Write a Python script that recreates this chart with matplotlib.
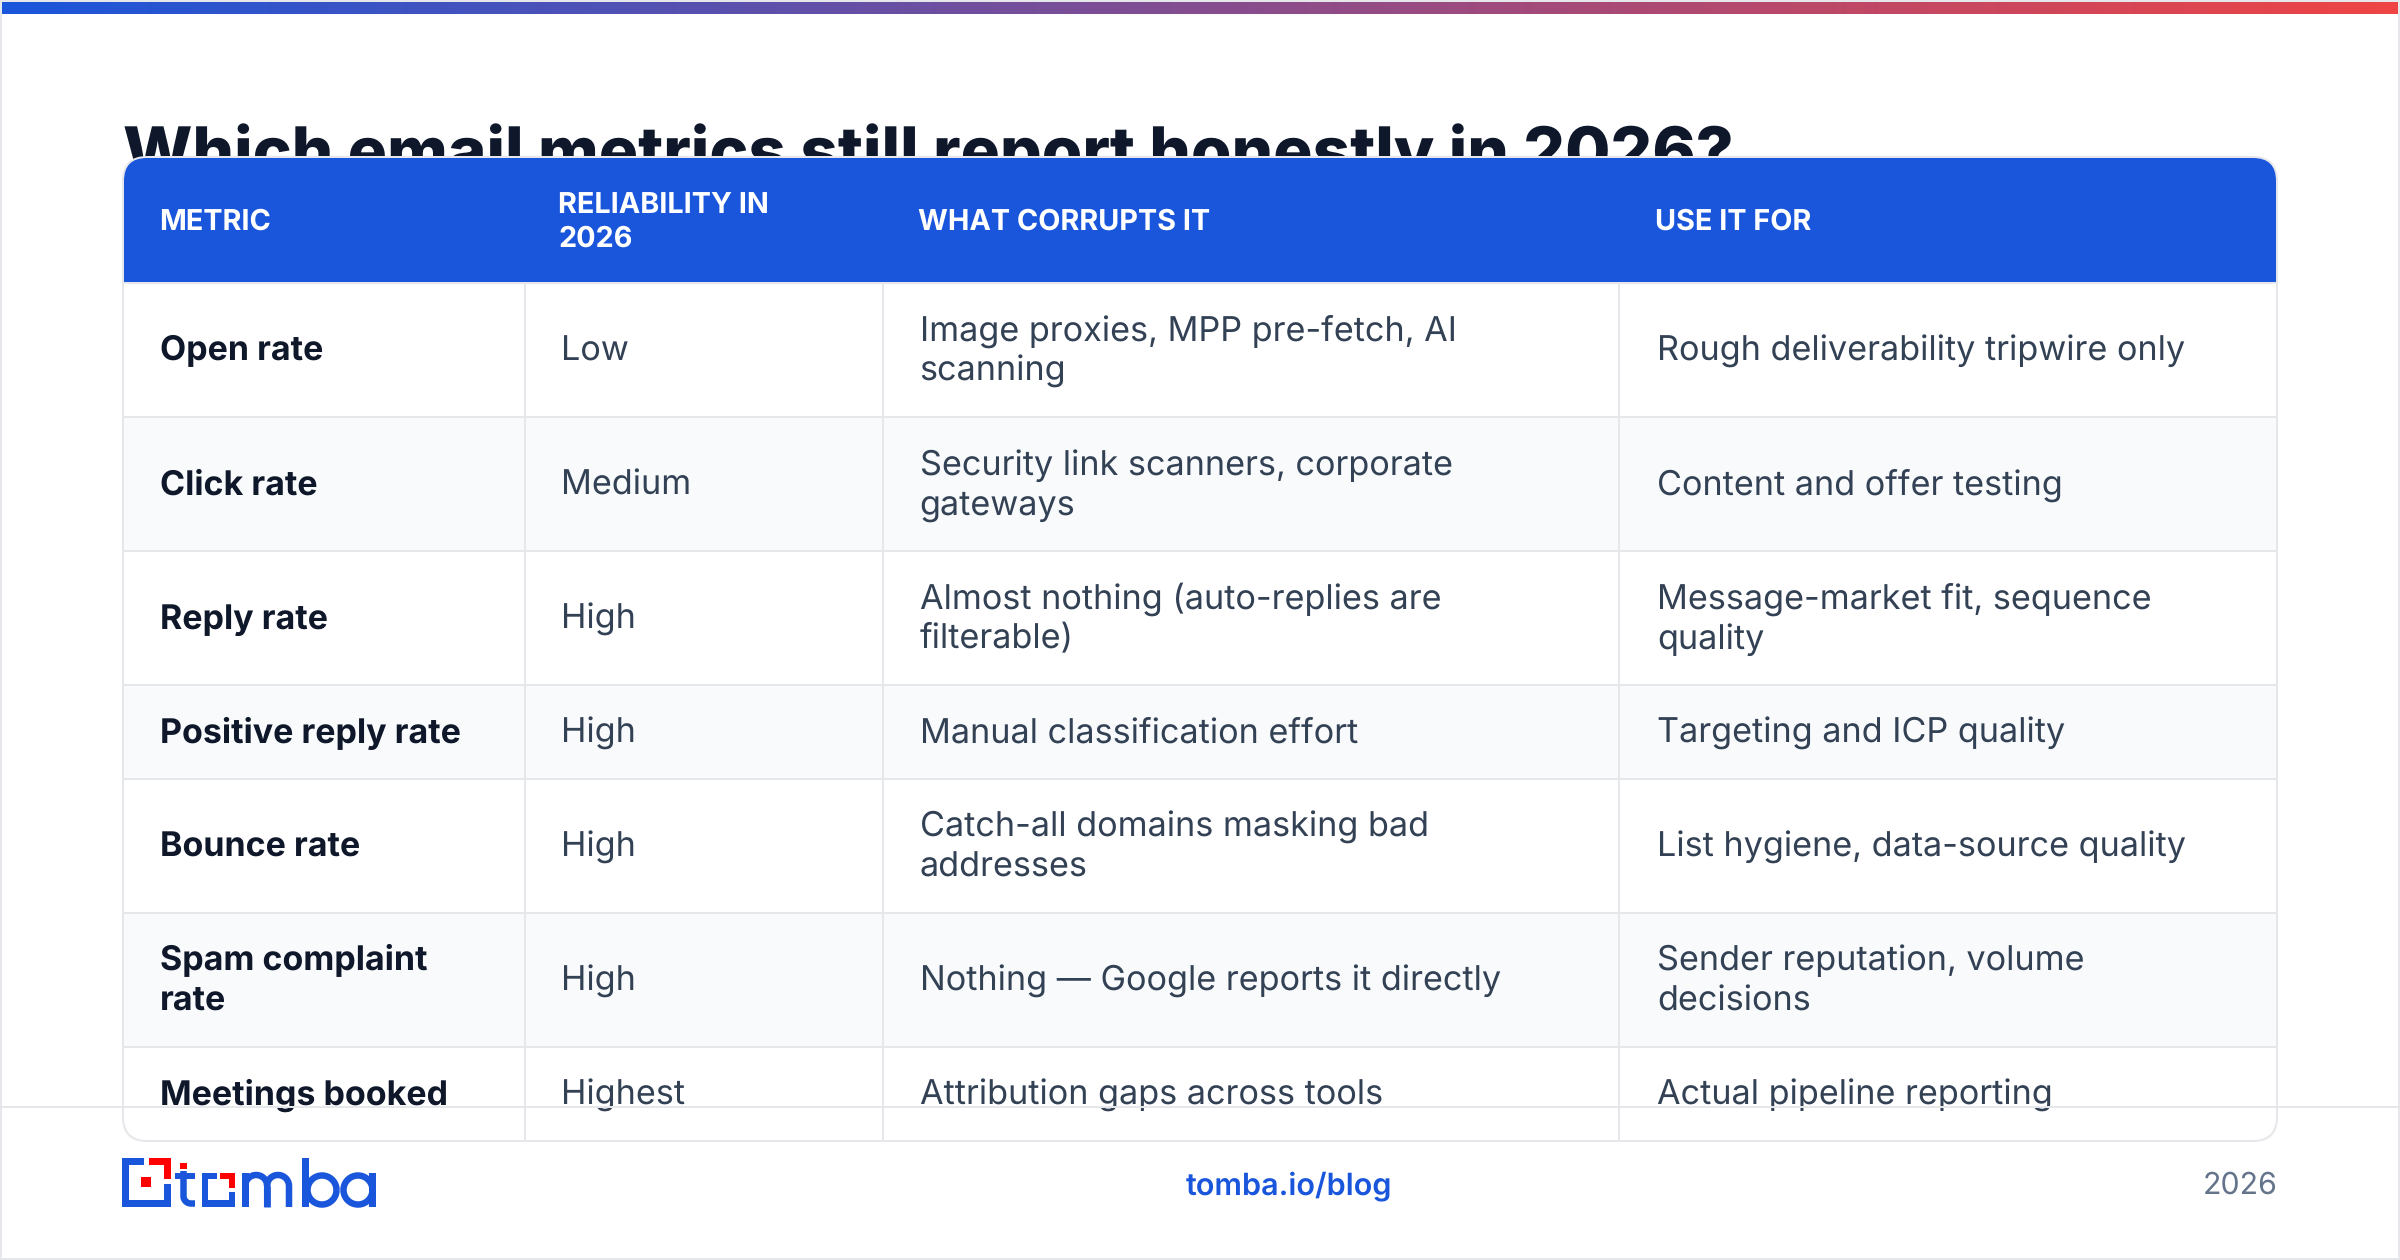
import numpy as np
import matplotlib
matplotlib.use('Agg')
import matplotlib.pyplot as plt
from matplotlib.patches import Rectangle, FancyBboxPatch

FONT = ['Inter', 'DejaVu Sans']
plt.rcParams['font.family'] = FONT
plt.rcParams['text.hinting'] = 'no_hinting'
plt.rcParams['text.hinting_factor'] = 1

title = 'Which email metrics still report honestly in 2026?'
headers = ['METRIC', 'RELIABILITY IN\n2026', 'WHAT CORRUPTS IT', 'USE IT FOR']
metrics = ['Open rate', 'Click rate', 'Reply rate', 'Positive reply rate', 'Bounce rate',
           'Spam complaint\nrate', 'Meetings booked']
reliability = ['Low', 'Medium', 'High', 'High', 'High', 'High', 'Highest']
corrupts = ['Image proxies, MPP pre-fetch, AI\nscanning',
            'Security link scanners, corporate\ngateways',
            'Almost nothing (auto-replies are\nfilterable)',
            'Manual classification effort',
            'Catch-all domains masking bad\naddresses',
            'Nothing \u2014 Google reports it directly',
            'Attribution gaps across tools']
uses = ['Rough deliverability tripwire only',
        'Content and offer testing',
        'Message-market fit, sequence\nquality',
        'Targeting and ICP quality',
        'List hygiene, data-source quality',
        'Sender reputation, volume\ndecisions',
        'Actual pipeline reporting']

BLUE = '#1a56db'
RED = '#ff0000'
LINE = '#e5e7eb'
INK = '#0f172a'
BODY = '#334155'
MUTED = '#64748b'
PX = 0.72  # points per pixel at dpi 100

# row edges and column edges of the table, in pixels
row_edges = [282, 416, 550, 684, 778, 912, 1046, 1141]
col_edges = [123, 525, 883, 1619, 2277]
text_x = [160, 561.5, 919.5, 1657]
head_x = [159.5, 558.5, 918, 1655]
table_top = 157


def box(x0, y0, x1, y1, color, z=2, clip=None):
    r = Rectangle((x0, y0), x1 - x0, y1 - y0, facecolor=color, edgecolor='none', lw=0, zorder=z)
    ax.add_patch(r)
    if clip is not None:
        r.set_clip_path(clip)
    return r


def lines_at(x, yc, s, size, weight, color, step=40):
    # multi-line cell, centred on yc
    parts = s.split('\n')
    for i, part in enumerate(parts):
        base = yc + 11.5 + (i - (len(parts) - 1) / 2) * step
        ax.text(x, base, part, fontsize=size * PX, fontweight=weight, color=color,
                va='baseline', ha='left', zorder=5)


fig = plt.figure(figsize=(24, 12.6), dpi=100, facecolor='white')
ax = fig.add_axes([0, 0, 1, 1])
ax.set_xlim(0, 2400)
ax.set_ylim(1260, 0)
ax.axis('off')

# slide border and gradient strip
for edge in [(0, 0, 2, 1260), (2398, 0, 2400, 1260), (0, 0, 2400, 2), (0, 1258, 2400, 1260)]:
    box(*edge, LINE, z=1)
c0 = np.array(matplotlib.colors.to_rgb(BLUE))
c1 = np.array(matplotlib.colors.to_rgb('#ef4444'))
ramp = np.linspace(0, 1, 512)[None, :, None]
ax.imshow(c0 + (c1 - c0) * ramp, extent=(2, 2398, 14, 2), aspect='auto', zorder=1)
ax.set_xlim(0, 2400)
ax.set_ylim(1260, 0)

ax.text(123, 174, title, fontsize=65.6 * PX, fontweight=800, color=INK, va='baseline', zorder=1)

# table card
h = 1141 - table_top
card = FancyBboxPatch((123, table_top), 2277 - 123, h, boxstyle='round,pad=0,rounding_size=24',
                      facecolor='white', edgecolor='none', zorder=2)
ax.add_patch(card)
box(123, table_top, 2277, 282, BLUE, z=2.1, clip=card)
for i in range(len(metrics)):
    if i % 2 == 1:
        box(123, row_edges[i], 2277, row_edges[i + 1], '#f8fafc', z=2.1, clip=card)
for y in row_edges[:-1]:
    box(123, y, 2277, y + 2, LINE, z=2.2, clip=card)
for x in col_edges[1:-1]:
    box(x - 1, 282, x + 1, 1141, LINE, z=2.2, clip=card)
outline = FancyBboxPatch((123, table_top), 2277 - 123, h, boxstyle='round,pad=0,rounding_size=24',
                         facecolor='none', edgecolor=LINE, lw=2 * PX, zorder=4)
ax.add_patch(outline)

for x, s in zip(head_x, headers):
    parts = s.split('\n')
    for i, part in enumerate(parts):
        base = 220 + 10 + (i - (len(parts) - 1) / 2) * 34
        ax.text(x, base, part, fontsize=28.8 * PX, fontweight=700, color='white', va='baseline', zorder=5)

for i in range(len(metrics)):
    yc = (row_edges[i] + row_edges[i + 1]) / 2 if i < 6 else 1093
    lines_at(text_x[0], yc, metrics[i], 34, 700, INK)
    lines_at(text_x[1], yc, reliability[i], 34.2, 400, BODY)
    lines_at(text_x[2], yc, corrupts[i], 34.2, 400, BODY)
    lines_at(text_x[3], yc, uses[i], 34.2, 400, BODY)

# footer rule runs over the card
box(2, 1106, 2398, 1108, LINE, z=6)

# logo mark
for r in [(122, 1158, 144, 1165), (122, 1158, 129, 1207), (122, 1200, 171, 1207), (164, 1184, 171, 1207),
          (175, 1173, 195, 1179), (202, 1173, 217, 1179), (202, 1173, 208, 1207), (202, 1200, 235, 1207),
          (229, 1192, 235, 1207), (242, 1173, 248.5, 1207), (302, 1158, 308.5, 1207), (369, 1173, 376, 1207)]:
    box(*r, BLUE, z=5)
for r in [(149, 1158, 171, 1165), (164, 1158, 171, 1179), (141, 1177, 151, 1187), (180, 1163, 187, 1169),
          (220, 1173, 235, 1179), (229, 1173, 235, 1188)]:
    box(*r, RED, z=5)


def stroke(xs, ys):
    ax.plot(xs, ys, color=BLUE, lw=6.5 * PX, solid_capstyle='butt', zorder=5)


ang = np.linspace(np.pi, 2 * np.pi, 40)
# t stem and foot
foot = np.linspace(np.pi, np.pi / 2, 20)
stroke(np.r_[183.5, 183.5, 191 + 7.5 * np.cos(foot), 195], np.r_[1171, 1196, 1196 + 7.5 * np.sin(foot), 1203.5])
# m arches
for x0 in (245.2, 267):
    stroke(np.r_[x0 + 11 + 11 * np.cos(ang), x0 + 22], np.r_[1207 - 21 + 11 * np.sin(ang), 1207])
stroke([x0 + 0, x0 + 0], [1186, 1207])
# bowls of b and a
t = np.linspace(0, 2 * np.pi, 90)
stroke(322 + 14.5 * np.cos(t), 1190 + 14.5 * np.sin(t))
stroke(358 + 14.5 * np.cos(t), 1190 + 14.5 * np.sin(t))

ax.text(1288.5, 1194, 'tomba.io/blog', fontsize=30.6 * PX, fontweight=600, color=BLUE, ha='center', va='baseline', zorder=5)
ax.text(2277.5, 1194, '2026', fontsize=30.3 * PX, color=MUTED, ha='right', va='baseline', zorder=5)

fig.savefig('out.png', dpi=100)
